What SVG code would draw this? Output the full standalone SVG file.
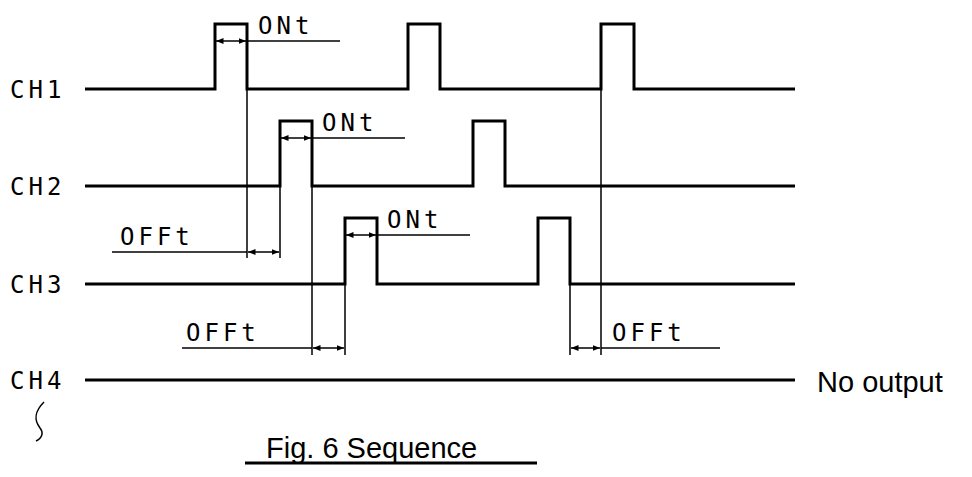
<svg xmlns="http://www.w3.org/2000/svg" width="972" height="477" viewBox="0 0 972 477">
<style>
.sig{fill:none;stroke:#000;stroke-width:3}
.thin{fill:none;stroke:#000;stroke-width:1.5}
.lbl{font-family:"DejaVu Sans Mono","Liberation Mono",monospace;font-size:24px;letter-spacing:4px;fill:#000}
.big{font-family:"Liberation Sans",Arial,sans-serif;font-size:29px;fill:#000}
</style>
<defs>
<marker id="a" viewBox="0 0 10 10" refX="10" refY="5" markerWidth="5" markerHeight="5" orient="auto-start-reverse"><path d="M0,1 L10,5 L0,9z" fill="#000"/></marker>
</defs>
<rect width="972" height="477" fill="#fff"/>
<g id="ch1"><text class="lbl" x="10" y="98">CH1</text><path class="sig" d="M85,89H215V24H247V89H408V24H440V89H601V24H634V89H795"/></g>
<g id="ch2"><text class="lbl" x="10" y="195">CH2</text><path class="sig" d="M85,186H280V121H312V186H473V121H505V186H795"/></g>
<g id="ch3"><text class="lbl" x="10" y="293">CH3</text><path class="sig" d="M85,284H345V218H377V284H538V218H570V284H795"/></g>
<g id="ch4"><text class="lbl" x="10" y="389">CH4</text><path class="sig" d="M85,380H795"/><text class="big" x="817" y="392">No output</text><path class="thin" d="M44,402C34,412 34,420 40,428C44,433 42,438 36,441"/></g>
<g id="connectors">
<path class="thin" d="M247,89V258M280,186V258M312,186V355M345,284V355M570,284V355M601,89V355"/>
<path class="thin" d="M216,41H246" marker-start="url(#a)" marker-end="url(#a)"/><path class="thin" d="M247,41H340"/>
<path class="thin" d="M281,138H311" marker-start="url(#a)" marker-end="url(#a)"/><path class="thin" d="M312,138H405"/>
<path class="thin" d="M346,235H376" marker-start="url(#a)" marker-end="url(#a)"/><path class="thin" d="M377,235H470"/>
<path class="thin" d="M248,252H279" marker-start="url(#a)" marker-end="url(#a)"/><path class="thin" d="M112,252H247"/>
<path class="thin" d="M313,348H344" marker-start="url(#a)" marker-end="url(#a)"/><path class="thin" d="M182,348H312"/>
<path class="thin" d="M571,348H600" marker-start="url(#a)" marker-end="url(#a)"/><path class="thin" d="M601,348H720"/>
</g>
<g id="labels">
<text class="lbl" x="258" y="34">ONt</text>
<text class="lbl" x="322" y="131">ONt</text>
<text class="lbl" x="387" y="228">ONt</text>
<text class="lbl" x="120" y="245">OFFt</text>
<text class="lbl" x="186" y="341">OFFt</text>
<text class="lbl" x="612" y="341">OFFt</text>
<text class="big" x="266" y="458">Fig. 6 Sequence</text>
<path d="M245,463H537" stroke="#000" stroke-width="3"/>
</g>
</svg>
